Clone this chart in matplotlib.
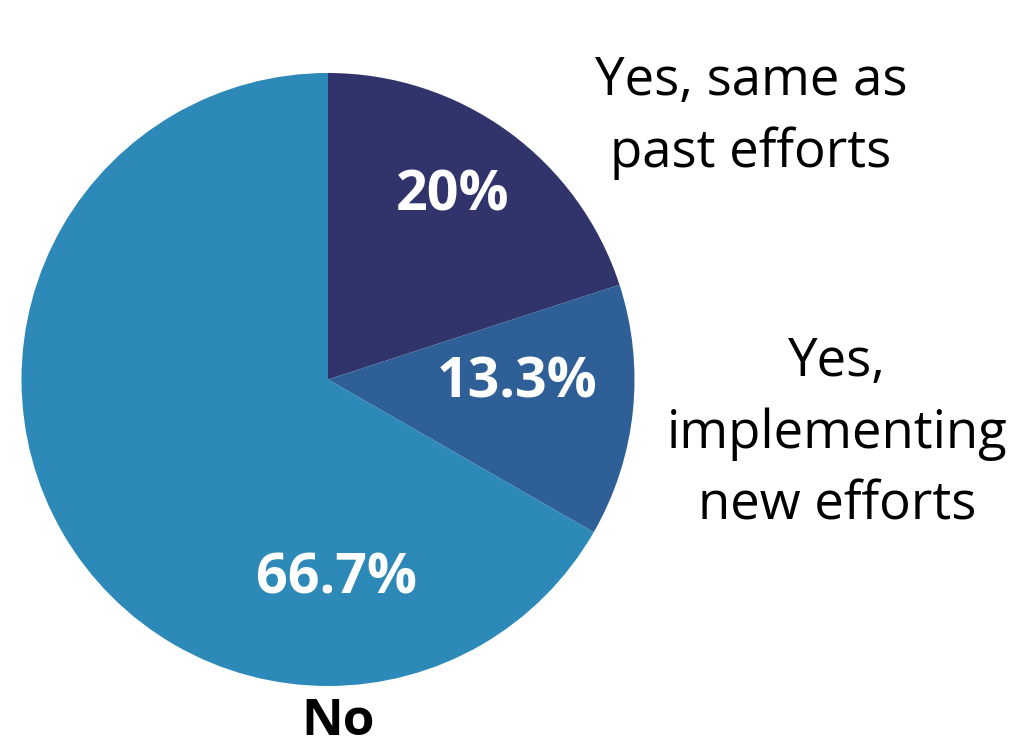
import matplotlib
matplotlib.use("Agg")
import matplotlib.pyplot as plt

# Survey responses
categories = ["Yes, same as\npast efforts", "Yes,\nimplementing\nnew efforts", "No"]
values = [20.0, 13.3, 66.7]
value_labels = ["20%", "13.3%", "66.7%"]
colors = ["#31346b", "#2e5f97", "#2c89b8"]

plt.rcParams["font.family"] = ["Open Sans", "DejaVu Sans"]

W, H = 1019, 748
fig = plt.figure(figsize=(W / 100, H / 100), dpi=100)
ax = fig.add_axes([0, 0, 1, 1])

cx, cy, r = 328, H - 379.5, 306.5
wedges, _ = ax.pie(values, colors=colors, startangle=90, counterclock=False,
                   center=(cx, cy), radius=r, frame=False,
                   wedgeprops=dict(linewidth=0))
ax.set_xlim(0, W)
ax.set_ylim(0, H)
ax.set_aspect("equal")
ax.axis("off")

# Percentage labels inside the slices
inner_pos = [(453, 196), (517, 383), (337, 579)]
for (x, y), t in zip(inner_pos, value_labels):
    ax.text(x, H - y, t, ha="center", va="center", color="white",
            fontsize=40, fontweight="bold")

# Category labels
ax.text(751, H - 117, categories[0], ha="center", va="center", fontsize=38,
        linespacing=1.45, color="black")
ax.text(837, H - 434, categories[1], ha="center", va="center", fontsize=38,
        linespacing=1.45, color="black")
ax.text(338, H - 722, categories[2], ha="center", va="center", fontsize=37,
        fontweight="bold", color="black")

fig.savefig("out.png", dpi=100)
